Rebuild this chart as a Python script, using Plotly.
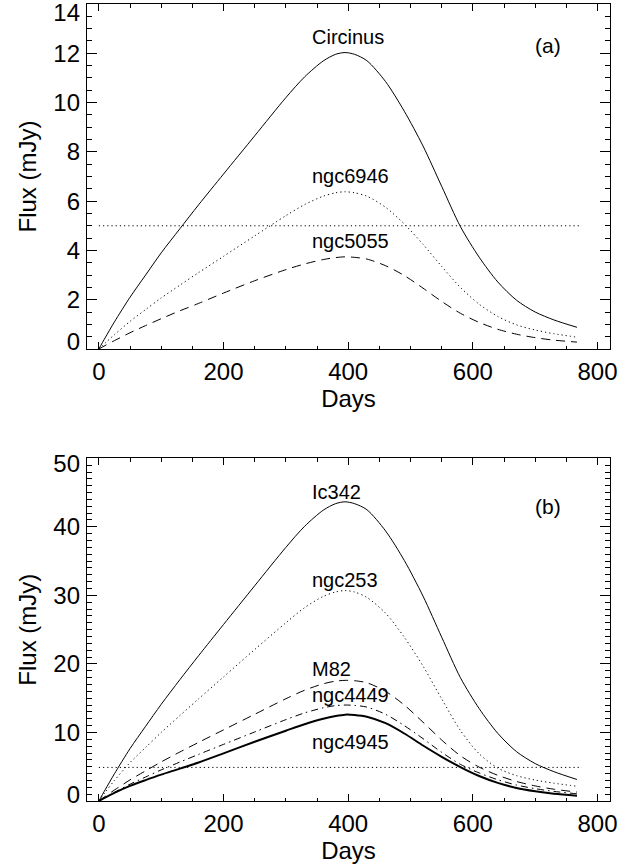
import plotly.graph_objects as go

# ---------------- data ----------------
days = [0, 10, 25, 50, 75, 100, 130, 160, 200, 250, 300, 330, 360, 380, 395,
        410, 430, 460, 490, 520, 550, 580, 610, 640, 670, 700, 730, 767]

# panel (a)
circinus = [0, 0.45, 1.1, 2.1, 3.0, 3.9, 4.88, 5.85, 7.1, 8.65, 10.2, 11.04, 11.69, 11.96, 12.03,
            11.96, 11.7, 10.85, 9.65, 8.24, 6.6, 4.97, 3.73, 2.72, 1.98, 1.5, 1.18, 0.88]
ngc6946 = [0, 0.24, 0.58, 1.12, 1.6, 2.07, 2.59, 3.1, 3.76, 4.59, 5.41, 5.86, 6.2, 6.34, 6.38,
           6.34, 6.2, 5.75, 5.07, 4.25, 3.35, 2.5, 1.82, 1.32, 0.98, 0.77, 0.62, 0.48]
ngc5055 = [0, 0.14, 0.34, 0.66, 0.95, 1.23, 1.55, 1.85, 2.27, 2.77, 3.22, 3.45, 3.63, 3.71, 3.74,
           3.72, 3.65, 3.38, 2.98, 2.47, 1.93, 1.45, 1.08, 0.8, 0.6, 0.46, 0.36, 0.28]

# panel (b)
ic342 = [0, 1.62, 3.97, 7.64, 10.9, 14.1, 17.7, 21.2, 25.75, 31.4, 37.0, 40.07, 42.43, 43.39, 43.65,
         43.39, 42.5, 39.4, 35.1, 29.9, 23.9, 18.0, 13.5, 9.87, 7.2, 5.46, 4.28, 3.14]
ngc253 = [0, 1.25, 3.0, 5.6, 7.8, 10.0, 12.46, 14.9, 18.1, 22.1, 26.0, 28.2, 29.85, 30.5, 30.7,
          30.5, 29.7, 27.4, 23.9, 19.7, 14.9, 10.3, 6.9, 4.8, 3.7, 3.05, 2.6, 2.15]
m82 = [0, 0.65, 1.6, 3.08, 4.4, 5.7, 7.15, 8.55, 10.38, 12.65, 14.92, 16.16, 17.1, 17.49, 17.6,
       17.55, 17.25, 16.0, 14.0, 11.5, 8.9, 6.6, 4.95, 3.75, 2.85, 2.2, 1.72, 1.3]
ngc4449 = [0, 0.52, 1.27, 2.45, 3.5, 4.54, 5.68, 6.8, 8.26, 10.07, 11.87, 12.85, 13.6, 13.92, 14.0,
           13.95, 13.7, 12.65, 11.0, 9.1, 7.1, 5.35, 4.1, 3.1, 2.33, 1.8, 1.4, 1.05]
ngc4945 = [0, 0.5, 1.2, 2.2, 3.05, 3.85, 4.72, 5.62, 6.95, 8.65, 10.25, 11.2, 12.0, 12.4, 12.6,
           12.55, 12.3, 11.35, 9.85, 8.1, 6.45, 4.95, 3.65, 2.65, 1.9, 1.42, 1.07, 0.78]

threshold_days = [0, 775]
threshold_a = 5.0
threshold_b = 4.9

x_ticks = [0, 200, 400, 600, 800]
ya_ticks = [0, 2, 4, 6, 8, 10, 12, 14]
yb_ticks = [0, 10, 20, 30, 40, 50]

labels_a = [("Circinus", 12.67), ("ngc6946", 7.02), ("ngc5055", 4.38)]
labels_b = [("Ic342", 45.1), ("ngc253", 32.2), ("M82", 19.2), ("ngc4449", 15.4), ("ngc4945", 8.6)]

# ---------------- style ----------------
FONT = "Liberation Sans, Arial, Helvetica, sans-serif"
W, H = 637, 867
ML, MR, MT, MB = 87, 27, 4, 66
plot_h = H - MT - MB
dom_a = [1 - 345 / plot_h, 1.0]
dom_b = [0.0, 1 - 454.3 / plot_h]
xrange_ = [-19, 820]
ya_range = [0, 14]
yb_range = [0, 50]

DOT = "1.2px,3px"
DASH = "9px,6px"
DASHDOT = "7px,4px,1.5px,4px"

fig = go.Figure()

def add(x, y, xa, ya, dash="solid", width=1):
    fig.add_trace(go.Scatter(x=x, y=y, mode="lines", xaxis=xa, yaxis=ya,
                             line=dict(color="black", width=width, dash=dash,
                                       shape="spline", smoothing=0.8),
                             showlegend=False, hoverinfo="skip"))

add(days, circinus, "x", "y")
add(days, ngc6946, "x", "y", DOT)
add(days, ngc5055, "x", "y", DASH)
fig.add_trace(go.Scatter(x=threshold_days, y=[threshold_a] * 2, mode="lines", xaxis="x", yaxis="y3",
                         line=dict(color="black", width=1, dash=DOT), showlegend=False,
                         hoverinfo="skip"))

add(days, ic342, "x2", "y2")
add(days, ngc253, "x2", "y2", DOT)
add(days, m82, "x2", "y2", DASH)
add(days, ngc4449, "x2", "y2", DASHDOT)
add(days, ngc4945, "x2", "y2", "solid", 2)
fig.add_trace(go.Scatter(x=threshold_days, y=[threshold_b] * 2, mode="lines", xaxis="x2", yaxis="y4",
                         line=dict(color="black", width=1, dash=DOT), showlegend=False,
                         hoverinfo="skip"))

tickfont = dict(family=FONT, size=24, color="black")

def xaxis(anchor):
    return dict(anchor=anchor, domain=[0, 1], range=xrange_, tickvals=x_ticks,
                ticks="inside", ticklen=7, tickwidth=1, tickcolor="black",
                showline=True, linecolor="black", linewidth=1, mirror="ticks",
                showgrid=False, zeroline=False, tickfont=tickfont, ticklabelstandoff=1,
                automargin=False,
                minor=dict(dtick=50, tick0=0, ticks="inside", ticklen=3.5, tickcolor="black",
                           showgrid=False),
                title=dict(text="Days", font=tickfont, standoff=4))

def yaxis_main(anchor, dom, rng, dtick, mdtick):
    return dict(anchor=anchor, domain=dom, range=rng, dtick=dtick, tick0=0,
                ticks="inside", ticklen=10, tickwidth=1, tickcolor="black",
                showline=True, linecolor="black", linewidth=1, mirror="ticks",
                showgrid=False, zeroline=False, showticklabels=False, automargin=False,
                minor=dict(dtick=mdtick, tick0=0, ticks="inside", ticklen=5, tickcolor="black",
                           showgrid=False))

def yaxis_labels(over, anchor, rng, vals, dom, nudge_low_px, nudge_high_px):
    # tick labels at the ends are kept inside the frame, as in the original
    px_per_unit = (dom[1] - dom[0]) * plot_h / (rng[1] - rng[0])
    pos = list(vals)
    pos[0] = vals[0] + nudge_low_px / px_per_unit
    pos[-1] = vals[-1] - nudge_high_px / px_per_unit
    return dict(overlaying=over, anchor=anchor, side="left", range=rng,
                tickmode="array", tickvals=pos, ticktext=[str(v) for v in vals],
                ticks="", showline=False, showgrid=False, zeroline=False, automargin=False,
                ticklabeloverflow="allow",
                tickfont=tickfont, ticklabelstandoff=6,
                title=dict(text="Flux (mJy)", font=tickfont, standoff=9))

annotations = []
for txt, yv in labels_a:
    annotations.append(dict(x=338, y=yv, xref="x", yref="y", text=txt, showarrow=False,
                            xanchor="left", yanchor="middle",
                            font=dict(family=FONT, size=20, color="black")))
for txt, yv in labels_b:
    annotations.append(dict(x=338, y=yv, xref="x2", yref="y2", text=txt, showarrow=False,
                            xanchor="left", yanchor="middle",
                            font=dict(family=FONT, size=20, color="black")))
annotations.append(dict(x=721, y=12.3, xref="x", yref="y", text="(a)", showarrow=False,
                        font=dict(family=FONT, size=21, color="black")))
annotations.append(dict(x=721, y=42.9, xref="x2", yref="y2", text="(b)", showarrow=False,
                        font=dict(family=FONT, size=21, color="black")))

fig.update_layout(
    width=W, height=H,
    margin=dict(l=ML, r=MR, t=MT, b=MB, autoexpand=False),
    paper_bgcolor="white", plot_bgcolor="white",
    font=dict(family=FONT, color="black"),
    xaxis=xaxis("y"),
    yaxis=yaxis_main("x", dom_a, ya_range, 2, 0.5),
    xaxis2=xaxis("y2"),
    yaxis2=yaxis_main("x2", dom_b, yb_range, 10, 1),
    yaxis3=yaxis_labels("y", "x", ya_range, ya_ticks, dom_a, 7, 8.5),
    yaxis4=yaxis_labels("y2", "x2", yb_range, yb_ticks, dom_b, 6, 5),
    annotations=annotations,
    showlegend=False,
)

fig.write_html("out.html", config={"displayModeBar": False},
               post_script="document.body.style.margin='0px';")
